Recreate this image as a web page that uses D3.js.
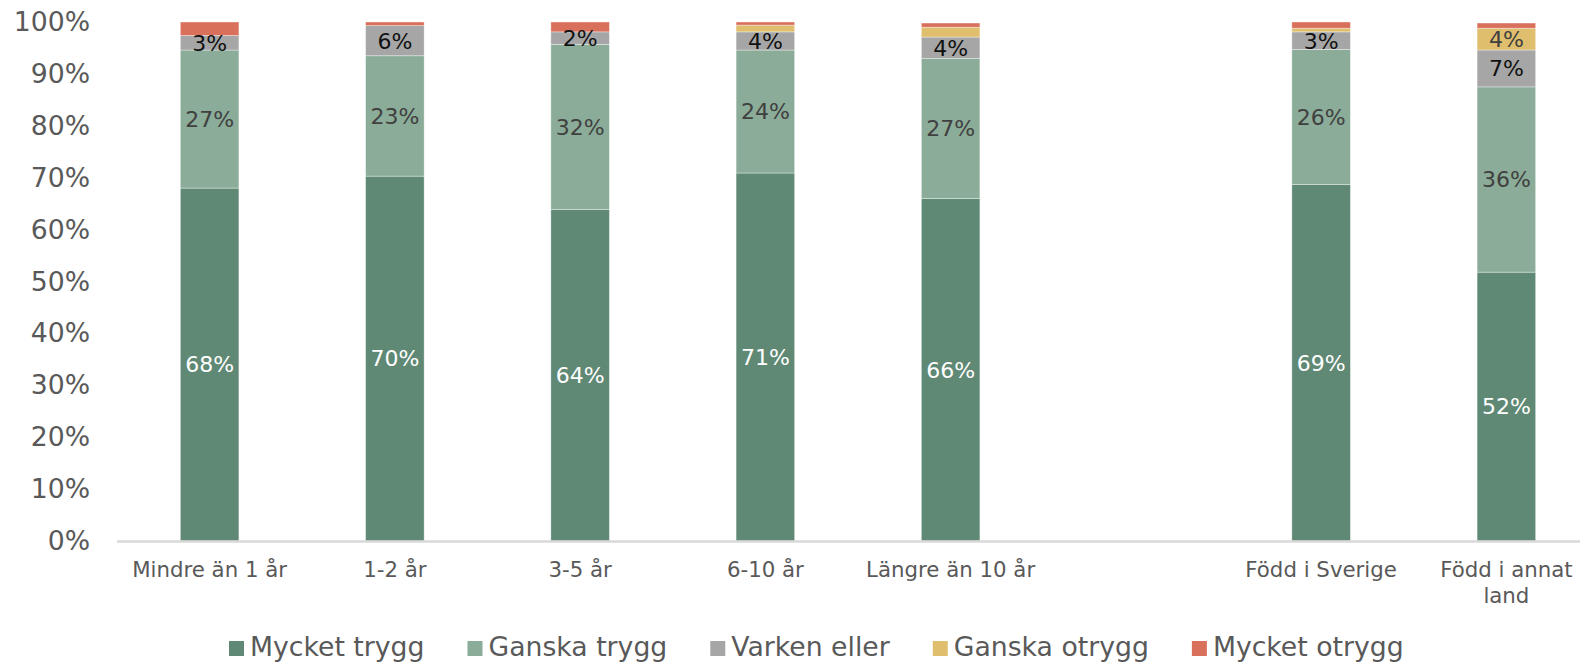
<!DOCTYPE html>
<html>
<head>
<meta charset="utf-8">
<script src="https://cdn.jsdelivr.net/npm/d3@7"></script>
<style>
  body { margin: 0; background: #fff; }
  svg { display: block; font-family: "DejaVu Sans", Verdana, sans-serif; }
</style>
</head>
<body>
<svg id="chart" width="1580" height="663"></svg>
<script>
// categories ("" is the empty gap column)
const categories = ["Mindre än 1 år", "1-2 år", "3-5 år", "6-10 år", "Längre än 10 år", "", "Född i Sverige", "Född i annat land"];
const seriesNames = ["Mycket trygg", "Ganska trygg", "Varken eller", "Ganska otrygg", "Mycket otrygg"];
const colors = ["#5f8974", "#8bac98", "#a6a6a6", "#dfbe6e", "#d8705b"];
const labelColors = ["#ffffff", "#404040", "#111111", "#404040", null];

// values in percent, one array per series
const mycketTrygg  = [68.0, 70.3, 63.9, 70.9, 66.0, null, 68.7, 51.8];
const ganskaTrygg  = [26.6, 23.2, 31.8, 23.7, 27.0, null, 26.0, 35.7];
const varkenEller  = [2.8, 5.8, 2.4, 3.5, 4.1, null, 3.4, 7.1];
const ganskaOtrygg = [0.0, 0.0, 0.0, 1.3, 1.9, null, 0.7, 4.2];
const mycketOtrygg = [2.6, 0.7, 1.9, 0.6, 0.8, null, 1.2, 1.0];
const yTicks = [0, 10, 20, 30, 40, 50, 60, 70, 80, 90, 100];

const seriesValues = [mycketTrygg, ganskaTrygg, varkenEller, ganskaOtrygg, mycketOtrygg];

const svg = d3.select("#chart");
const margin = { left: 117, right: 1599, top: 22, bottom: 541 };

const x = d3.scaleBand()
    .domain(categories.map((c, i) => i))
    .range([margin.left, margin.right])
    .paddingInner(0.684)
    .paddingOuter(0.342);

const y = d3.scaleLinear().domain([0, 100]).range([margin.bottom, margin.top]);

// stacked rows
const rows = categories.map((c, i) => {
    const r = { idx: i };
    seriesNames.forEach((s, k) => r[s] = seriesValues[k][i] || 0);
    return r;
});
const stack = d3.stack().keys(seriesNames)(rows);

const g = svg.append("g");
stack.forEach((layer, k) => {
    g.append("g").selectAll("rect")
        .data(layer.filter(d => d[1] - d[0] > 0))
        .join("rect")
        .attr("x", d => x(d.data.idx))
        .attr("width", x.bandwidth())
        .attr("y", d => y(d[1]))
        .attr("height", d => y(d[0]) - y(d[1]))
        .attr("fill", colors[k])
        .attr("stroke", "rgba(255,255,255,0.45)")
        .attr("stroke-width", 0.8);
});

// data labels
stack.forEach((layer, k) => {
    if (!labelColors[k]) return;
    g.append("g").selectAll("text")
        .data(layer.filter(d => d[1] - d[0] >= 2))
        .join("text")
        .attr("x", d => x(d.data.idx) + x.bandwidth() / 2)
        .attr("y", d => y((d[0] + d[1]) / 2))
        .attr("dy", "0.36em")
        .attr("text-anchor", "middle")
        .attr("font-size", 22)
        .attr("fill", labelColors[k])
        .text(d => Math.round(d[1] - d[0]) + "%");
});

// y axis labels
const yAxis = svg.append("g")
    .attr("transform", `translate(${margin.left},0)`)
    .call(d3.axisLeft(y).tickValues(yTicks).tickSize(0).tickPadding(27).tickFormat(d => d + "%"));
yAxis.select(".domain").remove();
yAxis.selectAll("text")
    .attr("font-size", 26.7)
    .attr("font-family", "DejaVu Sans, Verdana, sans-serif")
    .attr("fill", "#595959");

// x axis line
svg.append("line")
    .attr("x1", margin.left).attr("x2", 1580)
    .attr("y1", margin.bottom + 0.5).attr("y2", margin.bottom + 0.5)
    .attr("stroke", "#d9d9d9").attr("stroke-width", 2.5);

// category labels
const catLines = { "Född i annat land": ["Född i annat", "land"] };
svg.append("g").selectAll("text")
    .data(categories.map((c, i) => ({ c, i })).filter(d => d.c))
    .join("text")
    .attr("x", d => x(d.i) + x.bandwidth() / 2)
    .attr("y", 577)
    .attr("text-anchor", "middle")
    .attr("font-size", 21.3)
    .attr("fill", "#595959")
    .each(function(d) {
        const lines = catLines[d.c] || [d.c];
        d3.select(this).selectAll("tspan")
            .data(lines)
            .join("tspan")
            .attr("x", x(d.i) + x.bandwidth() / 2)
            .attr("dy", (l, j) => j === 0 ? 0 : 26)
            .text(l => l);
    });

// legend
const legend = svg.append("g");
let lx = 229;
seriesNames.forEach((s, k) => {
    legend.append("rect")
        .attr("x", lx).attr("y", 641)
        .attr("width", 15).attr("height", 15)
        .attr("fill", colors[k]);
    const t = legend.append("text")
        .attr("x", lx + 21).attr("y", 656)
        .attr("font-size", 26.7)
        .attr("fill", "#595959")
        .text(s);
    lx += 21 + t.node().getComputedTextLength() + 43;
});
</script>
</body>
</html>
